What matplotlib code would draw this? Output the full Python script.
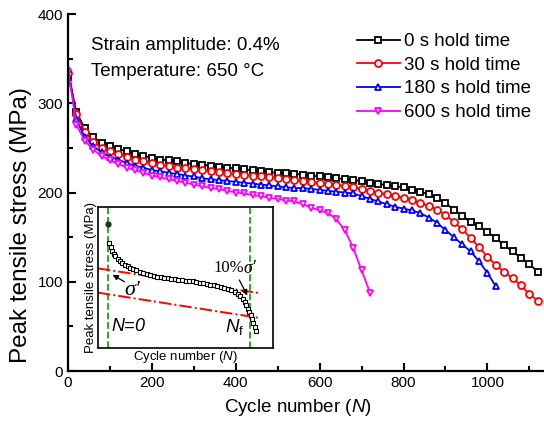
import numpy as np
import matplotlib.pyplot as plt

plt.rcParams['font.family'] = ['Liberation Sans', 'DejaVu Sans']
plt.rcParams['mathtext.fontset'] = 'custom'
plt.rcParams['mathtext.rm'] = 'Liberation Sans'
plt.rcParams['mathtext.it'] = 'Liberation Sans:italic'

# Ciclos (cada 20 ciclos)
n_0s = [1] + list(range(20, 1121, 20))
s_0s = [330, 290, 272, 262, 256, 252, 249, 246, 243, 241, 239,
        237, 236, 235, 233, 232, 231, 230, 229, 228, 227,
        226, 225, 224, 223, 222, 222, 221, 220, 219, 218,
        217, 216, 215, 214, 213, 211, 210, 208, 207, 206,
        203, 201, 198, 194, 188, 181, 174, 167, 162, 156,
        149, 141, 134, 127, 120, 111]

n_30s = [1] + list(range(20, 1121, 20))
s_30s = [334, 288, 268, 257, 250, 246, 243, 240, 237, 235, 233,
         231, 230, 228, 227, 226, 225, 224, 223, 222, 221,
         220, 219, 218, 217, 216, 215, 214, 213, 212, 211,
         210, 209, 207, 206, 204, 202, 200, 198, 196, 194,
         192, 188, 185, 181, 175, 167, 159, 149, 139, 128,
         119, 111, 104, 96, 86, 79]

n_180s = [1] + list(range(20, 1021, 20))
s_180s = [338, 282, 262, 252, 245, 240, 237, 233, 230, 228, 225,
          224, 222, 221, 219, 218, 216, 215, 214, 213, 212,
          211, 210, 209, 208, 207, 206, 205, 205, 204, 203,
          202, 201, 200, 199, 196, 193, 190, 187, 184, 182,
          180, 177, 172, 166, 158, 150, 142, 134, 123, 110,
          95]

n_600s = [1] + list(range(20, 721, 20))
s_600s = [335, 276, 258, 248, 241, 236, 232, 228, 225, 222, 219,
          217, 215, 213, 211, 209, 207, 205, 204, 202, 200,
          199, 197, 196, 194, 193, 191, 190, 187, 183, 180,
          177, 170, 158, 138, 113, 88]

labels = ['0 s hold time', '30 s hold time', '180 s hold time', '600 s hold time']

# Datos del recuadro (unidades arbitrarias 0-100)
inset_x = [6.5, 7.2, 8.0, 9.0, 10.0, 11.2, 12.5, 14.0, 15.5, 17.0, 18.5, 20.0,
           22.0, 24.0, 26.0, 28.0, 30.0, 32.0, 34.0, 36.0, 38.0, 40.0, 42.0,
           44.0, 46.0, 48.0, 50.0, 52.0, 54.0, 56.0, 58.0, 60.0, 62.0, 64.0,
           66.0, 68.0, 70.0, 72.0, 74.0, 76.0, 78.0, 79.8, 81.3, 82.6, 83.7,
           84.7, 85.6, 86.4, 87.2, 88.0, 88.8, 89.6, 90.4]
inset_y = [74.5, 71.5, 69.0, 66.8, 65.0, 63.3, 61.6, 60.2, 59.0, 57.9, 57.0, 56.0,
           55.0, 54.0, 53.1, 52.4, 51.8, 51.2, 50.7, 50.3, 49.8, 49.4, 49.1,
           48.8, 48.4, 48.1, 47.8, 47.5, 47.2, 46.8, 46.4, 46.0, 45.5, 45.0,
           44.5, 44.0, 43.4, 42.8, 42.0, 41.1, 40.0, 38.6, 37.0, 35.0, 32.8,
           30.4, 28.0, 25.6, 23.2, 20.6, 17.8, 14.8, 11.8]
first_point = (5.7, 88.2)
upper_line_x = [0, 93]
upper_line_y = [56.5, 38.8]
lower_line_x = [0, 93]
lower_line_y = [39.3, 21.2]
n0_x = 5.7
nf_x = 86.8

fig = plt.figure(figsize=(5.44, 4.26), dpi=100)
ax = fig.add_axes([0.125, 0.129, 0.875, 0.838])

series = [(n_0s, s_0s, 'black', 's'),
          (n_30s, s_30s, 'red', 'o'),
          (n_180s, s_180s, 'blue', '^'),
          (n_600s, s_600s, 'magenta', 'v')]
for (n, s, c, m), lab in zip(series, labels):
    ax.plot(n, s, color=c, marker=m, markersize=5, markerfacecolor='white',
            markeredgecolor=c, markeredgewidth=1.3, linewidth=1.3, label=lab)

ax.set_xlim(0, 1135)
ax.set_ylim(0, 400)
ax.set_xticks([0, 200, 400, 600, 800, 1000])
ax.set_xticks(range(100, 1101, 200), minor=True)
ax.set_yticks([0, 100, 200, 300, 400])
ax.set_yticks([50, 150, 250, 350], minor=True)
ax.tick_params(which='both', direction='in', width=1.5, labelsize=11)
ax.tick_params(which='major', length=6)
ax.tick_params(which='minor', length=3.5)
for sp in ['top', 'right']:
    ax.spines[sp].set_visible(False)
for sp in ['left', 'bottom']:
    ax.spines[sp].set_linewidth(1.6)

ax.set_xlabel('Cycle number ($N$)', fontsize=13.5)
ax.set_ylabel('Peak tensile stress (MPa)', fontsize=17.5)
ax.xaxis.set_label_coords(0.483, -0.072)
ax.yaxis.set_label_coords(-0.076, 0.41)

ax.text(0.048, 0.913, 'Strain amplitude: 0.4%', transform=ax.transAxes,
        fontsize=13.5, va='center')
ax.text(0.048, 0.840, 'Temperature: 650 \u00b0C', transform=ax.transAxes,
        fontsize=13.5, va='center')

ax.legend(loc='upper left', bbox_to_anchor=(0.607, 0.947), frameon=False,
          fontsize=13.5, handlelength=2.3, handletextpad=0.2,
          borderpad=0, borderaxespad=0, labelspacing=0.35)

# Recuadro
ins = fig.add_axes([0.180, 0.183, 0.322, 0.331])
ins.set_xlim(0, 100)
ins.set_ylim(0, 100)
ins.set_xticks([])
ins.set_yticks([])
for sp in ins.spines.values():
    sp.set_linewidth(1.2)
ins.axvline(n0_x, color='#1fa01f', linestyle='--', linewidth=1.3)
ins.axvline(nf_x, color='#1fa01f', linestyle='--', linewidth=1.3)
ins.plot(upper_line_x, upper_line_y, color='red', linestyle='-.', linewidth=1.4)
ins.plot(lower_line_x, lower_line_y, color='red', linestyle='-.', linewidth=1.4)
ins.plot(inset_x, inset_y, color='black', marker='s', markersize=3,
         markerfacecolor='white', markeredgewidth=0.8, linewidth=0.8)
ins.plot(*first_point, marker='o', color='#1a3a1a', markersize=3.5)
ins.set_xlabel('Cycle number ($N$)', fontsize=9.5, labelpad=1)
ins.set_ylabel('Peak tensile stress (MPa)', fontsize=9.5, labelpad=1)

ins.annotate('', xy=(7.0, 53.0), xytext=(16.5, 46.0),
             arrowprops=dict(arrowstyle='-|>', color='black', lw=0.9,
                             mutation_scale=8))
ins.text(15.0, 40.5, '\u03c3\u2032', fontsize=16, family='Liberation Serif',
         style='italic', va='center')
ins.text(66.0, 56.5, '10%', fontsize=12, family='Liberation Serif', va='center')
ins.text(83.3, 56.5, '\u03c3\u2032', fontsize=13, family='Liberation Serif',
         style='italic', va='center')
ins.annotate('', xy=(86.0, 35.5), xytext=(80.0, 50.0),
             arrowprops=dict(arrowstyle='-|>', color='black', lw=0.9,
                             mutation_scale=8))
ins.text(7.5, 15.0, '$N$=0', fontsize=13, style='italic', va='center')
ins.text(72.5, 15.0, '$N_\\mathrm{f}$', fontsize=13.5, va='center')

fig.savefig('out.png', dpi=100)
